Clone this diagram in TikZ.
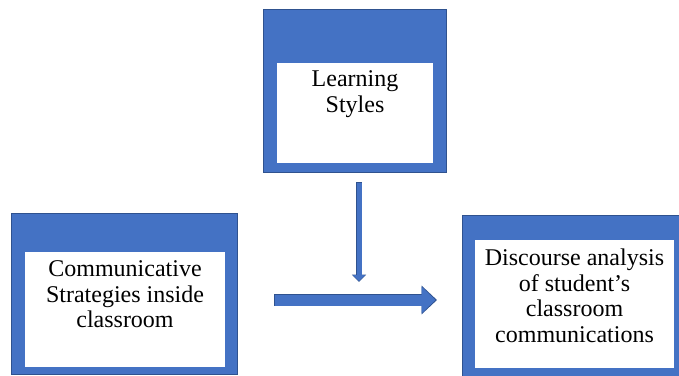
\documentclass[tikz,border=0pt]{standalone}
\usepackage{fontspec}
\setmainfont{Liberation Serif}
\usetikzlibrary{arrows.meta,positioning}
\definecolor{officeblue}{HTML}{4472C4}
\definecolor{edgeblue}{HTML}{2F528F}
\tikzset{
  outerbox/.style={draw=edgeblue, fill=officeblue, line width=1pt, inner sep=0pt},
  innerbox/.style={fill=white, inner sep=0pt},
  boxtext/.style={align=center, inner sep=0pt, anchor=north, font=\fontsize{24}{25.5}\selectfont},
  arrowedge/.style={draw=edgeblue, line cap=butt},
  arrowbody/.style={draw=officeblue, line cap=butt},
}

\begin{document}
\begin{tikzpicture}[x=1pt,y=-1pt]
  \useasboundingbox (0,0) rectangle (679,375);

  % boxes: name / outer centre and size / inner centre and size
  \foreach \name/\ox/\oy/\ow/\oh/\ix/\iy/\iw/\ih in
  {
    learn/354.5/90.5/183/163/355/113/156/100,
    comm/124/293.5/226/161/125/309.5/200/115,
    disc/573/295.5/222/161/574.5/304/199/128
  }
  {
    \node[outerbox, minimum width=\ow pt, minimum height=\oh pt] (\name) at (\ox,\oy) {};
    \node[innerbox, minimum width=\iw pt, minimum height=\ih pt] (\name-in) at (\ix,\iy) {};
  }

  \node[boxtext] (learn-txt) at ([yshift=-8pt]learn-in.north) {Learning\\Styles};
  \node[boxtext] (comm-txt) at ([yshift=-9pt]comm-in.north) {Communicative\\Strategies inside\\classroom};
  \node[boxtext] (disc-txt) at ([yshift=-9pt]disc-in.north) {Discourse analysis\\of student’s\\classroom\\communications};

  \coordinate (vtop) at (359,182);
  \coordinate (vtip) at (359,282);
  \coordinate (htail) at (274,300);
  \coordinate (htip) at (437,300);

  % downward arrow
  \draw[arrowedge, line width=6.5pt, -{Triangle[width=14pt,length=7.5pt]}] (vtop) -- (vtip);
  \draw[arrowbody, line width=5pt, shorten <=0.75pt, shorten >=1pt, -{Triangle[width=12pt,length=6pt]}] (vtop) -- (vtip);
  % wide arrow to the right
  \draw[arrowedge, line width=12.5pt, -{Triangle[width=28pt,length=15.5pt]}] (htail) -- (htip);
  \draw[arrowbody, line width=11pt, shorten <=0.75pt, shorten >=1.5pt, -{Triangle[width=26pt,length=14pt]}] (htail) -- (htip);
\end{tikzpicture}
\end{document}
